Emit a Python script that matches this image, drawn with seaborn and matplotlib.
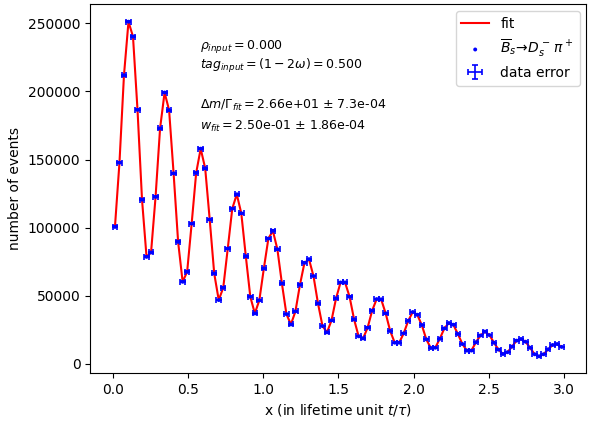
import numpy as np
import pandas as pd
import matplotlib
matplotlib.use("Agg")
import matplotlib.pyplot as plt
import seaborn as sns

# bin centres (lifetime units) and event counts
bin_width = 0.03
x_centres = [0.015 + bin_width * i for i in range(100)]
counts = [
    100600, 147700, 211900, 251200, 240300, 186500, 120600, 78600, 81800, 122600,
    172900, 199200, 186300, 139900, 89600, 60300, 67600, 103000, 140200, 158000,
    143600, 106000, 66400, 46900, 55900, 84700, 114000, 124500, 110600, 79100,
    49300, 37100, 46700, 70100, 92000, 97700, 84200, 59100, 36600, 29000,
    38600, 58100, 74200, 76900, 64500, 44400, 27800, 23200, 32000, 48100,
    59800, 59800, 49300, 32700, 20300, 18800, 26600, 39100, 47600, 47400,
    37100, 24200, 15600, 15600, 22500, 31700, 38100, 36100, 28600, 18100,
    11700, 11900, 18500, 26100, 30000, 28800, 22000, 14600, 9800, 9800,
    15900, 20900, 23700, 21200, 15600, 10500, 7300, 8600, 12700, 17100,
    18300, 16300, 11900, 7100, 5600, 7100, 10700, 13900, 14600, 12500,
]
fit_values = counts

df = pd.DataFrame({"x": x_centres, "n": counts, "fit": fit_values})

fig = plt.figure(figsize=(6.09, 4.26), dpi=100)
ax = fig.add_axes([0.148, 0.124, 0.815, 0.866])

sns.lineplot(data=df, x="x", y="fit", color="red", lw=1.5, label="fit", ax=ax, zorder=1)
sns.scatterplot(data=df, x="x", y="n", color="blue", s=8, edgecolor="none",
                label=r"$\overline{B}_s\!\rightarrow\! D_s^-\,\pi^+$", ax=ax, zorder=3)
ax.errorbar(df["x"], df["n"], xerr=bin_width / 2, yerr=np.sqrt(df["n"]),
            fmt="none", ecolor="blue", elinewidth=1.2, capsize=2, capthick=1.2,
            label="data error", zorder=2)

ax.set_xlabel(r"x (in lifetime unit $t/\tau$)")
ax.set_ylabel("number of events")
ax.set_xticks([0.0, 0.5, 1.0, 1.5, 2.0, 2.5, 3.0])
ax.set_yticks([0, 50000, 100000, 150000, 200000, 250000])

ax.text(0.58, 231000, r"$\rho_{input} = 0.000$", fontsize=9)
ax.text(0.58, 216500, r"$tag_{input} = (1-2\omega) = 0.500$", fontsize=9)
ax.text(0.58, 187000, r"$\Delta m/\Gamma_{fit} = $" + "2.66e+01 $\\pm$ 7.3e-04", fontsize=9)
ax.text(0.58, 171500, r"$w_{fit} = $" + "2.50e-01 $\\pm$ 1.86e-04", fontsize=9)

ax.legend(loc="upper right")

fig.savefig("out.png", dpi=100)
